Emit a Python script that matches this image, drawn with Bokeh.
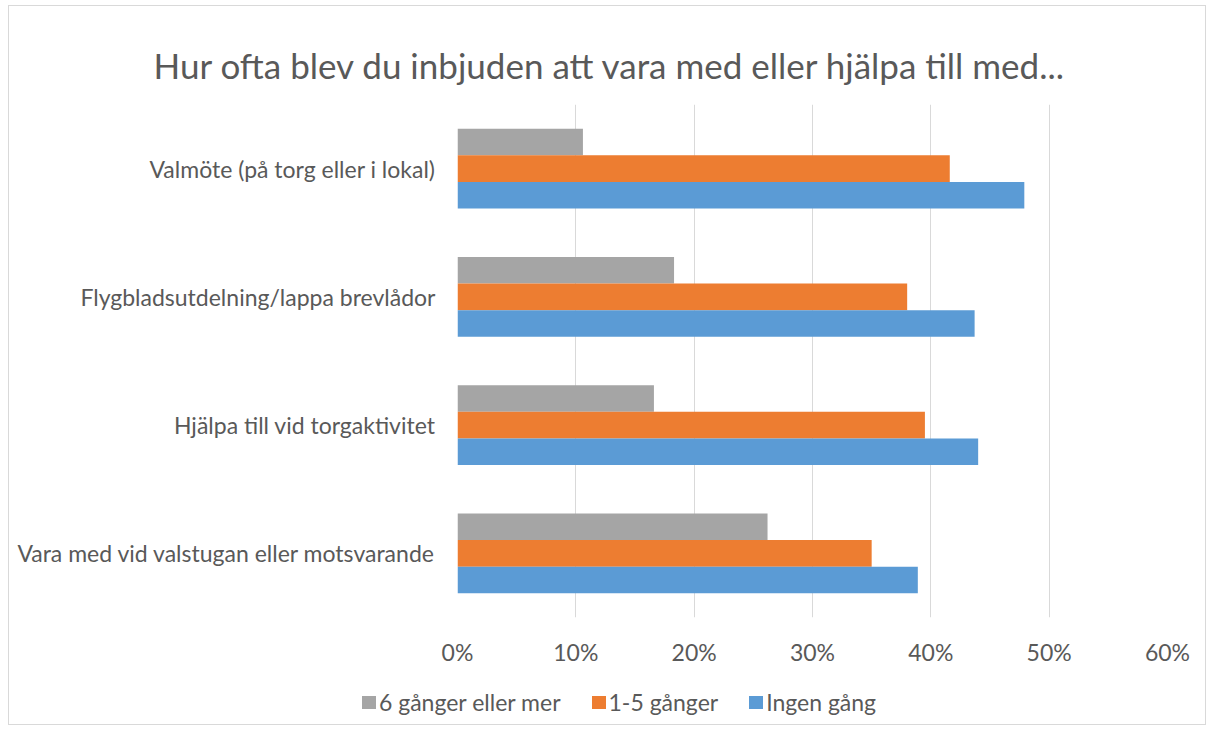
from bokeh.plotting import figure
from bokeh.models import FactorRange, Range1d, FixedTicker, PrintfTickFormatter, Div
from bokeh.models import ColumnDataSource
from bokeh.layouts import column
from bokeh.transform import dodge
from bokeh.embed import file_html
from bokeh.resources import INLINE

categories = [
    "Valmöte (på torg eller i lokal)",
    "Flygbladsutdelning/lappa brevlådor",
    "Hjälpa till vid torgaktivitet",
    "Vara med vid valstugan eller motsvarande",
]
series_names = ["6 gånger eller mer", "1-5 gånger", "Ingen gång"]
six_or_more = [10.6, 18.3, 16.6, 26.2]
one_to_five = [41.6, 38.0, 39.5, 35.0]
never = [47.9, 43.7, 44.0, 38.9]
x_ticks = [0, 10, 20, 30, 40, 50, 60]
colors = ["#a5a5a5", "#ed7d31", "#5b9bd5"]

FONT = "Lato"
TXT = "#595959"

src = ColumnDataSource(dict(cat=categories, a=six_or_more, b=one_to_five, c=never))

p = figure(
    frame_width=710, frame_height=513,
    y_range=FactorRange(factors=list(reversed(categories))),
    x_range=Range1d(0, 60),
    output_backend="svg", toolbar_location=None,
    min_border_left=448, min_border_right=38, min_border_top=98, min_border_bottom=63,
    title="Hur ofta blev du inbjuden att vara med eller hjälpa till med...",
)
p.outline_line_color = None
p.title.align = "left"
p.title.offset = -304
p.title.standoff = 37
p.title.text_font = FONT
p.title.text_font_size = "35px"
p.title.text_font_style = "normal"
p.title.text_color = TXT

h = 0.207
p.hbar(y=dodge("cat", h, range=p.y_range), right="a", left=0, height=h, source=src,
       fill_color=colors[0], line_color=None, legend_label=series_names[0])
p.hbar(y=dodge("cat", 0, range=p.y_range), right="b", left=0, height=h, source=src,
       fill_color=colors[1], line_color=None, legend_label=series_names[1])
p.hbar(y=dodge("cat", -h, range=p.y_range), right="c", left=0, height=h, source=src,
       fill_color=colors[2], line_color=None, legend_label=series_names[2])
p.legend.visible = False

p.xaxis.ticker = FixedTicker(ticks=x_ticks)
p.xaxis.formatter = PrintfTickFormatter(format="%d%%")
for ax in (p.xaxis[0], p.yaxis[0]):
    ax.axis_line_color = None
    ax.major_tick_line_color = None
    ax.minor_tick_line_color = None
    ax.major_tick_out = 0
    ax.major_tick_in = 0
    ax.major_label_text_font = FONT
    ax.major_label_text_font_size = "23px"
    ax.major_label_text_color = TXT
p.xaxis.major_label_standoff = 20
p.yaxis.major_label_standoff = 22

p.ygrid.grid_line_color = None
p.xgrid.grid_line_color = "#d9d9d9"
p.xgrid.grid_line_width = 1
p.xgrid.ticker = FixedTicker(ticks=x_ticks)

# legend strip below the chart (built from series names and colours)
items_html = "".join(
    f'<span style="display:inline-block;width:14px;height:13px;background:{c};'
    f'margin-right:3px"></span><span style="margin-right:31px">{n}</span>'
    for n, c in zip(series_names, colors)
)
legend_div = Div(
    text=(f'<div style="display:flex;align-items:center;height:44px;padding-left:353px;'
          f'font-family:Lato;font-size:23px;color:{TXT};white-space:nowrap;line-height:1">'
          f'{items_html}</div>'),
    width=1196, height=44, margin=0,
)

layout = column(p, legend_div, spacing=0,
                styles={"border": "1px solid #d9d9d9", "margin-left": "8px", "margin-top": "5px"})

open("out.html", "w").write(file_html(layout, INLINE))
